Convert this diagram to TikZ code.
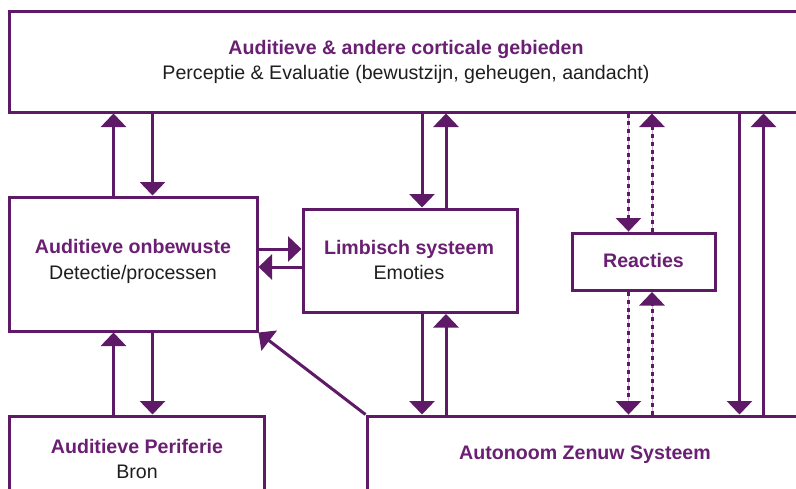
\documentclass[tikz,border=0pt]{standalone}
\usepackage{fontspec}
\setmainfont{Liberation Sans}
\usetikzlibrary{arrows.meta}
\definecolor{pur}{HTML}{5E1A66}
\definecolor{txtpur}{HTML}{6A1F72}
\definecolor{lightpur}{HTML}{C9A9CF}
\definecolor{txtgray}{HTML}{1E1E1E}
\begin{document}
\begin{tikzpicture}[x=1pt,y=-1pt,
  box/.style={draw=pur, line width=3pt, rectangle, inner sep=0pt},
  ttl/.style={anchor=base, inner sep=0pt, text=txtpur, font=\fontsize{19.6}{22}\selectfont\bfseries},
  sub/.style={anchor=base, inner sep=0pt, text=txtgray, font=\fontsize{19.6}{22}\selectfont},
  arr/.style={draw=pur, line width=3pt, -{Triangle[length=13.5pt,width=25pt]}},
  darr/.style={draw=pur, line width=3pt, dash pattern=on 4pt off 3.8pt, -{Triangle[length=13.5pt,width=25pt]}},
  guide/.style={draw=lightpur, line width=1pt}
]
\useasboundingbox (0,0) rectangle (796,488);
\clip (0,0) rectangle (796,488);

% boxes
\node[box, minimum width=794pt, minimum height=101pt] (top) at (406,61.5) {};
\node[box, minimum width=248pt, minimum height=134pt] (onb) at (133,264) {};
\node[box, minimum width=214pt, minimum height=103.5pt] (lim) at (410,260.75) {};
\node[box, minimum width=143pt, minimum height=57.5pt] (rea) at (643.5,261.75) {};
\node[box, minimum width=255pt, minimum height=104pt] (per) at (136.5,468) {};
\node[box, minimum width=436pt, minimum height=104pt] (ans) at (585,468) {};

% texts
\node[ttl] (topT) at (406,54) {Auditieve \& andere corticale gebieden};
\node[sub] (topS) at (406,79) {Perceptie \& Evaluatie (bewustzijn, geheugen, aandacht)};
\node[ttl] (onbT) at (133,253) {Auditieve onbewuste};
\node[sub] (onbS) at (133,279) {Detectie/processen};
\node[ttl] (limT) at (409,254) {Limbisch systeem};
\node[sub] (limS) at (409,279) {Emoties};
\node[ttl] (reaT) at (643.5,267) {Reacties};
\node[ttl] (perT) at (137,453) {Auditieve Periferie};
\node[sub] (perS) at (137,478) {Bron};
\node[ttl] (ansT) at (585,459) {Autonoom Zenuw Systeem};

% x / y guide coordinates
\coordinate (xa) at (113.5,0);
\coordinate (xb) at (152.5,0);
\coordinate (xc) at (422,0);
\coordinate (xd) at (446,0);
\coordinate (xe) at (628.5,0);
\coordinate (xf) at (652,0);
\coordinate (xg) at (739.5,0);
\coordinate (xh) at (763.5,0);
\coordinate (ya) at (0,249);
\coordinate (yb) at (0,267);

% solid arrows
\draw[arr] (xa |- onb.north) -- (xa |- top.south);
\draw[arr] (xb |- top.south) -- (xb |- onb.north);
\draw[arr] (xa |- per.north) -- (xa |- onb.south);
\draw[arr] (xb |- onb.south) -- (xb |- per.north);
\draw[arr] (xc |- top.south) -- (xc |- lim.north);
\draw[arr] (xd |- lim.north) -- (xd |- top.south);
\draw[arr] (xc |- lim.south) -- (xc |- ans.north);
\draw[arr] (xd |- ans.north) -- (xd |- lim.south);
\draw[arr] (onb.east |- ya) -- (lim.west |- ya);
\draw[arr] (lim.west |- yb) -- (onb.east |- yb);
\draw[arr] (xg |- top.south) -- (xg |- ans.north);
\draw[arr] (xh |- ans.north) -- (xh |- top.south);
\draw[arr] (ans.north west) -- (onb.south east);

% dotted arrows
\draw[guide] (xe |- top.south) -- (xe |- rea.north);
\draw[guide] (xf |- rea.north) -- (xf |- top.south);
\draw[guide] (xe |- rea.south) -- (xe |- ans.north);
\draw[guide] (xf |- ans.north) -- (xf |- rea.south);
\draw[darr] (xe |- top.south) -- (xe |- rea.north);
\draw[darr] (xf |- rea.north) -- (xf |- top.south);
\draw[darr] (xe |- rea.south) -- (xe |- ans.north);
\draw[darr] (xf |- ans.north) -- (xf |- rea.south);
\end{tikzpicture}
\end{document}
